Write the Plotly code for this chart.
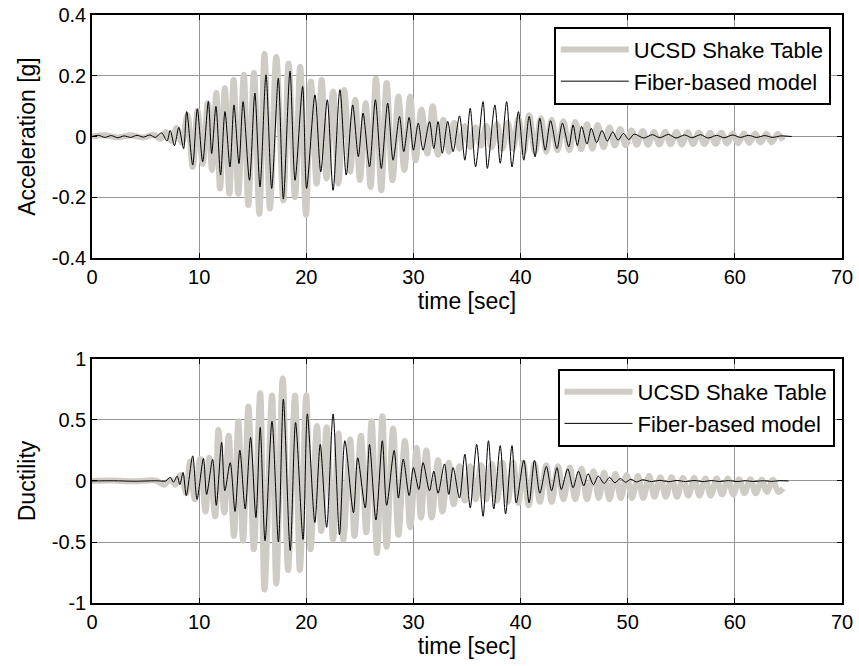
import plotly.graph_objects as go

# ---------------- data (extrema) ----------------
acc_table_t = [0, 1.2, 2.4, 3.6, 4.8, 5.8, 6.4, 6.9, 7.4, 7.9, 8.4, 8.9, 9.4, 9.85, 10.33, 10.8, 11.2,
               11.6, 11.95, 12.4, 12.82, 13.22, 13.66, 14.17, 14.59, 15.12, 15.62, 16.1, 16.61, 17.2,
               17.86, 18.35, 18.95, 19.43, 19.97, 20.43, 20.97, 21.44, 21.9, 22.5, 22.99, 23.54, 24.1,
               24.57, 25.0, 25.55, 26.0, 26.5, 27.0, 27.5, 28.05, 28.6, 29.15, 29.7, 30.2, 30.75, 31.3,
               31.8, 32.3, 32.8, 33.3, 33.8, 34.3, 34.8, 35.3, 35.8, 36.3, 36.8, 37.3, 37.8, 38.3, 38.8,
               39.3, 39.8, 40.3, 40.8, 41.35, 41.9, 42.4, 42.9, 43.45, 44.0, 44.55, 45.1, 45.65, 46.2,
               46.7, 47.2, 47.75, 48.3, 48.8, 49.3, 49.8, 50.35, 50.85, 51.4, 51.9, 52.45, 52.95, 53.5,
               54.0, 54.55, 55.05, 55.6, 56.1, 56.65, 57.15, 57.7, 58.2, 58.75, 59.25, 59.8, 60.3, 60.85,
               61.35, 61.9, 62.4, 62.95, 63.45, 64.0, 64.5]
acc_table_v = [0, 0.004, -0.003, 0.004, -0.003, 0.006, -0.008, 0.015, -0.015, 0.028, -0.02, 0.07, -0.1,
               0.085, -0.09, 0.11, -0.11, 0.143, -0.171, 0.159, -0.188, 0.187, -0.188, 0.203, -0.226,
               0.209, -0.254, 0.272, -0.237, 0.262, -0.21, 0.24, -0.2, 0.23, -0.258, 0.181, -0.155, 0.187,
               -0.138, 0.148, -0.155, 0.153, -0.116, 0.121, -0.143, 0.11, -0.166, 0.19, -0.177, 0.176,
               -0.144, 0.132, -0.11, 0.132, -0.078, 0.088, -0.056, 0.1, -0.06, 0.055, -0.05, 0.045, -0.04,
               0.035, -0.035, 0.03, -0.03, 0.035, -0.035, 0.04, -0.04, 0.045, -0.04, 0.06, -0.05, 0.07,
               -0.05, 0.06, -0.05, 0.055, -0.045, 0.05, -0.045, 0.048, -0.042, 0.04, -0.04, 0.038, -0.035,
               0.03, -0.03, 0.025, -0.028, 0.02, -0.027, 0.018, -0.027, 0.015, -0.026, 0.016, -0.025,
               0.015, -0.026, 0.014, -0.025, 0.013, -0.024, 0.012, -0.024, 0.012, -0.023, 0.011, -0.022,
               0.01, -0.021, 0.01, -0.02, 0.009, -0.019, 0.008, -0.012]

acc_model_t = [0, 0.6, 1.2, 1.8, 2.4, 3.0, 3.6, 4.2, 4.8, 5.4, 5.9, 6.5, 7.0, 7.3, 7.7, 8.1, 8.55, 8.84,
               9.4, 9.83, 10.33, 10.86, 11.17, 11.57, 12.0, 12.41, 12.88, 13.25, 13.72, 14.1, 14.7, 15.2,
               15.68, 16.24, 16.77, 17.39, 17.86, 18.48, 18.95, 19.66, 20.03, 20.81, 21.35, 21.96, 22.5,
               23.14, 23.73, 24.33, 24.86, 25.3, 25.9, 26.45, 27.0, 27.6, 28.1, 28.7, 29.1, 29.6, 30.0,
               30.45, 30.9, 31.5, 31.9, 32.3, 32.7, 33.2, 33.7, 34.3, 34.8, 35.3, 35.8, 36.5, 36.9, 37.6,
               38.1, 38.7, 39.2, 39.8, 40.3, 40.8, 41.35, 41.8, 42.3, 42.8, 43.4, 43.9, 44.5, 44.9, 45.3,
               45.7, 46.2, 46.6, 47.1, 47.6, 48.1, 48.6, 49.1, 49.6, 50.1, 50.6, 51.5, 52.3, 53.0, 53.8,
               54.5, 55.3, 56.0, 56.8, 57.5, 58.3, 59.0, 59.8, 60.5, 61.3, 62.0, 62.8, 63.5, 64.3, 65.3]
acc_model_v = [0, 0.004, -0.003, 0.003, -0.004, 0.002, -0.003, 0.004, -0.002, 0.005, -0.003, 0.012,
               -0.015, 0.02, -0.03, 0.03, -0.04, 0.082, -0.094, 0.091, -0.083, 0.115, -0.056, 0.099,
               -0.127, 0.082, -0.1, 0.104, -0.089, 0.115, -0.144, 0.143, -0.166, 0.203, -0.171, 0.192,
               -0.206, 0.215, -0.144, 0.165, -0.171, 0.137, -0.116, 0.121, -0.177, 0.154, -0.127, 0.104,
               -0.066, 0.077, -0.1, 0.121, -0.105, 0.11, -0.078, 0.066, -0.05, 0.063, -0.045, 0.044,
               -0.045, 0.049, -0.04, 0.049, -0.055, 0.05, -0.05, 0.068, -0.078, 0.093, -0.1, 0.115,
               -0.105, 0.104, -0.088, 0.115, -0.1, 0.082, -0.078, 0.066, -0.067, 0.06, -0.045, 0.052,
               -0.04, 0.044, -0.034, 0.038, -0.03, 0.033, -0.025, 0.027, -0.02, 0.02, -0.015, 0.015,
               -0.012, 0.01, -0.01, 0.008, -0.005, 0.006, -0.004, 0.007, -0.005, 0.005, -0.004, 0.006,
               -0.005, 0.004, -0.004, 0.005, -0.003, 0.004, -0.003, 0.003, -0.003, 0.002, 0.0]

duc_table_t = [0, 2.0, 4.0, 6.0, 6.7, 7.3, 7.8, 8.3, 8.8, 9.15, 9.6, 10.1, 10.6, 10.95, 11.5, 11.8, 12.35,
               12.75, 13.25, 13.66, 14.1, 14.6, 15.1, 15.7, 16.1, 16.8, 17.2, 17.8, 18.3, 18.95, 19.4, 20.0,
               20.4, 21.0, 21.4, 21.9, 22.5, 23.0, 23.45, 24.1, 24.5, 25.1, 25.6, 26.1, 26.6, 27.1, 27.5,
               28.1, 28.6, 29.2, 29.7, 30.3, 30.7, 31.2, 31.7, 32.3, 32.7, 33.3, 33.75, 34.3, 34.8, 35.3,
               35.8, 36.3, 36.8, 37.3, 37.8, 38.3, 38.8, 39.3, 39.8, 40.25, 40.75, 41.3, 41.8, 42.4, 42.9,
               43.5, 44.0, 44.6, 45.1, 45.7, 46.2, 46.8, 47.3, 47.8, 48.3, 48.85, 49.35, 49.9, 50.4, 50.95,
               51.45, 52.0, 52.5, 53.05, 53.55, 54.1, 54.6, 55.15, 55.65, 56.2, 56.7, 57.25, 57.75, 58.3,
               58.8, 59.35, 59.85, 60.4, 60.9, 61.45, 61.95, 62.5, 63.0, 63.55, 64.05, 64.5]
duc_table_v = [0, 0.003, -0.003, 0.003, -0.03, 0.01, -0.03, 0.05, -0.1, 0.16, -0.15, 0.18, -0.25, 0.19,
               -0.29, 0.42, -0.26, 0.37, -0.45, 0.49, -0.49, 0.61, -0.56, 0.72, -0.89, 0.7, -0.84, 0.84,
               -0.73, 0.7, -0.73, 0.7, -0.56, 0.45, -0.41, 0.44, -0.48, 0.39, -0.48, 0.34, -0.45, 0.37,
               -0.42, 0.49, -0.59, 0.53, -0.54, 0.43, -0.44, 0.33, -0.38, 0.27, -0.3, 0.25, -0.3, 0.17,
               -0.25, 0.15, -0.19, 0.12, -0.16, 0.12, -0.15, 0.13, -0.15, 0.14, -0.16, 0.15, -0.17, 0.15,
               -0.18, 0.15, -0.2, 0.14, -0.17, 0.13, -0.17, 0.12, -0.15, 0.11, -0.15, 0.1, -0.15, 0.08,
               -0.14, 0.07, -0.15, 0.06, -0.14, 0.05, -0.14, 0.04, -0.14, 0.04, -0.13, 0.03, -0.13, 0.03,
               -0.13, 0.025, -0.12, 0.025, -0.12, 0.02, -0.12, 0.02, -0.11, 0.02, -0.11, 0.015, -0.1,
               0.015, -0.1, 0.01, -0.09, 0.01, -0.09, -0.06]

duc_model_t = [0, 2.0, 4.0, 6.0, 6.9, 7.3, 7.6, 7.95, 8.2, 8.5, 8.8, 9.4, 9.8, 10.4, 10.7, 11.26, 11.6,
               12.1, 12.4, 12.9, 13.35, 13.8, 14.3, 14.8, 15.3, 15.7, 16.15, 16.8, 17.4, 17.86, 18.5, 19.0,
               19.7, 20.1, 20.8, 21.3, 21.9, 22.5, 23.1, 23.6, 24.4, 24.8, 25.5, 25.9, 26.5, 27.1, 27.5,
               28.2, 28.6, 29.05, 29.6, 30.0, 30.5, 30.9, 31.5, 31.9, 32.3, 32.9, 33.3, 33.7, 34.3, 34.8,
               35.3, 35.9, 36.5, 37.0, 37.5, 38.1, 38.6, 39.2, 39.6, 40.3, 40.8, 41.3, 41.8, 42.4, 42.9,
               43.4, 43.8, 44.4, 44.9, 45.4, 45.9, 46.3, 46.8, 47.25, 47.8, 48.3, 48.8, 49.3, 49.8, 50.3,
               50.8, 51.4, 52.2, 53.0, 53.8, 54.6, 55.4, 56.2, 57.0, 57.8, 58.6, 59.4, 60.2, 61.0, 61.8,
               62.6, 63.4, 64.2, 65.0]
duc_model_v = [0, 0.002, -0.002, 0.002, 0.0, 0.03, -0.01, 0.04, -0.03, 0.07, -0.12, 0.206, -0.15, 0.186,
               -0.11, 0.178, -0.2, 0.316, -0.08, 0.15, -0.25, 0.252, -0.23, 0.357, -0.3, 0.44, -0.49,
               0.49, -0.5, 0.67, -0.57, 0.48, -0.48, 0.55, -0.34, 0.3, -0.38, 0.55, -0.44, 0.33, -0.26,
               0.19, -0.22, 0.3, -0.32, 0.33, -0.2, 0.25, -0.14, 0.18, -0.12, 0.11, -0.07, 0.15, -0.08,
               0.08, -0.1, 0.14, -0.11, 0.11, -0.14, 0.22, -0.22, 0.3, -0.29, 0.33, -0.23, 0.29, -0.27,
               0.29, -0.18, 0.17, -0.18, 0.17, -0.1, 0.12, -0.08, 0.11, -0.07, 0.1, -0.055, 0.08, -0.04,
               0.06, -0.03, 0.04, -0.02, 0.03, -0.015, 0.02, -0.01, 0.015, -0.008, 0.01, -0.005, 0.005,
               -0.006, 0.004, -0.005, 0.004, -0.005, 0.003, -0.004, 0.003, -0.004, 0.002, -0.004, 0.002,
               -0.003, 0.002, 0.0]

x_ticks = [0, 10, 20, 30, 40, 50, 60, 70]
acc_ticks = [-0.4, -0.2, 0, 0.2, 0.4]
acc_ticklabels = ["-0.4", "-0.2", "0", "0.2", "0.4"]
duc_ticks = [-1, -0.5, 0, 0.5, 1]
duc_ticklabels = ["-1", "-0.5", "0", "0.5", "1"]
series_names = ["UCSD Shake Table", "Fiber-based model"]

# ---------------- figure ----------------
GREY = "rgb(207,204,197)"
FONT = "Liberation Sans, Arial, sans-serif"
TICK_SIZE = 20
TITLE_SIZE = 23
LEGEND_SIZE = 22

fig = go.Figure()
fig.add_trace(go.Scatter(x=acc_table_t, y=acc_table_v, mode="lines", name=series_names[0],
                         line=dict(color=GREY, width=6, shape="spline", smoothing=1.0),
                         xaxis="x", yaxis="y", legend="legend"))
fig.add_trace(go.Scatter(x=acc_model_t, y=acc_model_v, mode="lines", name=series_names[1],
                         line=dict(color="black", width=1, shape="spline", smoothing=0.8),
                         xaxis="x", yaxis="y", legend="legend"))
fig.add_trace(go.Scatter(x=duc_table_t, y=duc_table_v, mode="lines", name=series_names[0],
                         line=dict(color=GREY, width=6, shape="spline", smoothing=1.0),
                         xaxis="x2", yaxis="y2", legend="legend2"))
fig.add_trace(go.Scatter(x=duc_model_t, y=duc_model_v, mode="lines", name=series_names[1],
                         line=dict(color="black", width=1, shape="spline", smoothing=0.8),
                         xaxis="x2", yaxis="y2", legend="legend2"))

axis_common = dict(showline=True, linecolor="black", linewidth=1.5, mirror="ticks",
                   ticks="inside", ticklen=5, tickcolor="black", showgrid=True,
                   gridcolor="rgb(150,150,150)", gridwidth=1, zeroline=False, automargin=False,
                   tickfont=dict(family=FONT, size=TICK_SIZE, color="black"))

top_dom = [0.5867, 1.0]
bot_dom = [0.0, 0.415]

fig.update_layout(
    width=859, height=666,
    margin=dict(l=92, r=17, t=15, b=63),
    paper_bgcolor="white", plot_bgcolor="white",
    font=dict(family=FONT, size=TICK_SIZE, color="black"),
    showlegend=True,
    xaxis=dict(domain=[0, 1], range=[0, 70], tickvals=x_ticks, anchor="y",
               title=dict(text="time [sec]", font=dict(size=TITLE_SIZE), standoff=0), **axis_common),
    yaxis=dict(domain=top_dom, range=[-0.4, 0.4], tickvals=acc_ticks, ticktext=acc_ticklabels,
               anchor="x", title=dict(text="Acceleration [g]", font=dict(size=TITLE_SIZE), standoff=10),
               **axis_common),
    xaxis2=dict(domain=[0, 1], range=[0, 70], tickvals=x_ticks, anchor="y2",
                title=dict(text="time [sec]", font=dict(size=TITLE_SIZE), standoff=0), **axis_common),
    yaxis2=dict(domain=bot_dom, range=[-1, 1], tickvals=duc_ticks, ticktext=duc_ticklabels,
                anchor="x2", title=dict(text="Ductility", font=dict(size=TITLE_SIZE), standoff=10),
                **axis_common),
    legend=dict(x=0.985, y=0.98, xanchor="right", yanchor="top", bgcolor="white",
                bordercolor="black", borderwidth=2, font=dict(family=FONT, size=LEGEND_SIZE),
                itemwidth=68, tracegroupgap=0),
    legend2=dict(x=0.99, y=0.398, xanchor="right", yanchor="top", bgcolor="white",
                 bordercolor="black", borderwidth=2, font=dict(family=FONT, size=LEGEND_SIZE),
                 itemwidth=68, tracegroupgap=0),
)

fig.write_html("out.html")
